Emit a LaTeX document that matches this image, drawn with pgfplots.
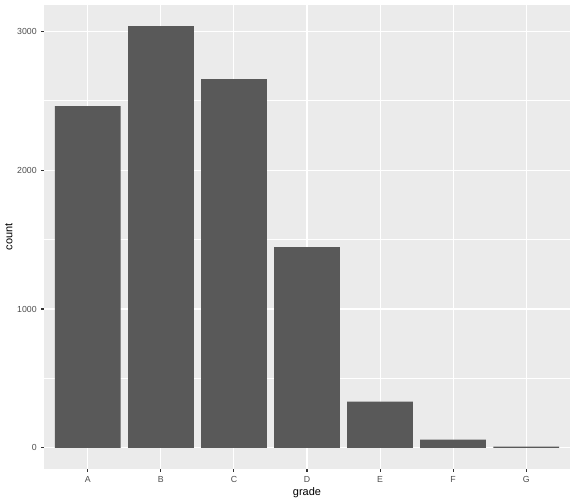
\documentclass[border=0pt]{standalone}
\usepackage{fontspec}
\setmainfont{Liberation Sans}
\usepackage{pgfplots}
\pgfplotsset{compat=1.18}
\definecolor{panelbg}{HTML}{EBEBEB}
\definecolor{barfill}{HTML}{595959}
\definecolor{ticklab}{HTML}{4D4D4D}
\definecolor{tickcol}{HTML}{333333}
\begin{document}
\begin{tikzpicture}
\begin{axis}[
  scale only axis,
  width=526bp, height=464bp,
  xmin=0.4, xmax=7.6,
  ymin=-151.85, ymax=3189,
  axis background/.style={fill=panelbg},
  axis line style={draw=none},
  xtick={1,2,3,4,5,6,7},
  xticklabels={A,B,C,D,E,F,G},
  ytick={0,1000,2000,3000},
  minor ytick={500,1500,2500},
  xtick pos=lower, ytick pos=left,
  grid=both,
  major grid style={white, line width=1.07bp},
  minor grid style={white, line width=0.53bp},
  tick align=outside,
  major tick length=2.75bp,
  minor tick length=0pt,
  tick style={tickcol, line width=1.07bp},
  every minor tick/.style={draw=none},
  /pgf/number format/assume math mode=true,
  /pgf/number format/set thousands separator={},
  ticklabel style={font=\fontsize{8.8}{10}\selectfont, text=ticklab},
  xticklabel style={yshift=-1bp},
  yticklabel style={xshift=-1bp},
  xlabel={grade},
  ylabel={count},
  label style={font=\fontsize{11}{13}\selectfont, text=black},
  xlabel style={yshift=2bp},
  ylabel style={yshift=-2bp},
  ybar, bar width=0.9,
]
\addplot[fill=barfill, draw=none] coordinates {
  (1,2460) (2,3037) (3,2655) (4,1446) (5,333) (6,60) (7,9)
};
\end{axis}
\pgfresetboundingbox
\path[use as bounding box] ([xshift=-44bp,yshift=-35bp]current axis.south west) rectangle ([xshift=6bp,yshift=5bp]current axis.north east);
\end{tikzpicture}
\end{document}
